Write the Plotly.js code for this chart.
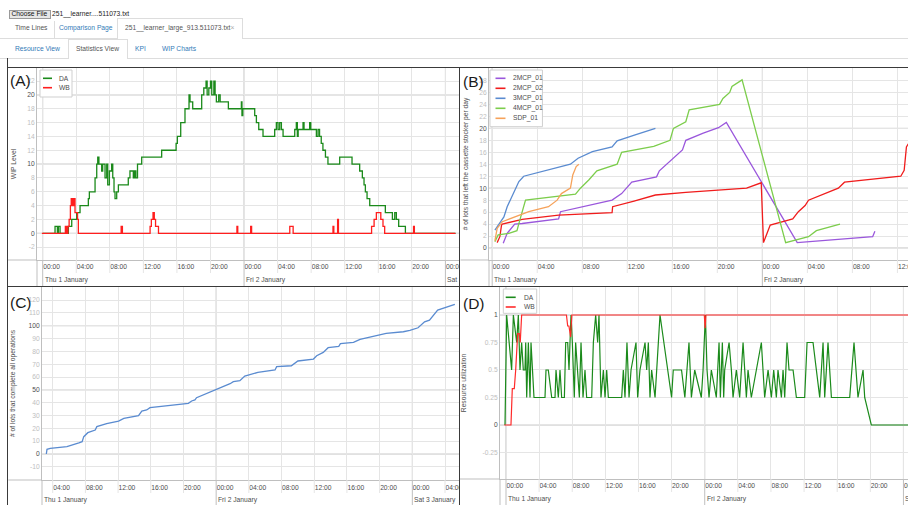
<!DOCTYPE html>
<html><head><meta charset="utf-8">
<script src="https://cdn.plot.ly/plotly-3.0.1.min.js"></script>
<style>
body{margin:0;background:#fff;font-family:"Liberation Sans",Arial,sans-serif;}
#page{position:relative;width:908px;height:505px;overflow:hidden;background:#fff;}
.abs{position:absolute;}
.t{position:absolute;font-size:6.7px;line-height:1;white-space:nowrap;}
.blue{color:#337ab7}
.gray{color:#555}
.fr{position:absolute;background:#3a3a3a;}
.panel{position:absolute;overflow:hidden;}
</style></head><body><div id="page">
<div class="abs" style="left:9px;top:10px;width:40px;height:7px;border:1px solid #9a9a9a;background:#e6e6e6;"></div>
<div class="t" style="left:11.5px;top:10.6px;color:#111">Choose File</div>
<div class="t" style="left:52px;top:10.6px;color:#222">251__learner....511073.txt</div>
<div class="abs" style="left:0;top:38px;width:117px;height:1px;background:#ddd"></div>
<div class="abs" style="left:242px;top:38px;width:666px;height:1px;background:#ddd"></div>
<div class="abs" style="left:54px;top:20.5px;width:1px;height:18px;background:#ddd"></div>
<div class="abs" style="left:117px;top:18px;width:124px;height:20px;border:1px solid #ddd;border-bottom:none;background:#fff"></div>
<div class="t gray" style="left:15px;top:25.3px">Time Lines</div>
<div class="t blue" style="left:59px;top:25.3px">Comparison Page</div>
<div class="t gray" style="left:125px;top:25.3px">251__learner_large_913.511073.txt<span style="color:#aaa">×</span></div>
<div class="abs" style="left:0;top:58px;width:68px;height:1px;background:#ddd"></div>
<div class="abs" style="left:127px;top:58px;width:781px;height:1px;background:#ddd"></div>
<div class="abs" style="left:68px;top:39px;width:58px;height:19px;border:1px solid #ddd;border-bottom:none;background:#fff"></div>
<div class="t blue" style="left:15px;top:45.6px">Resource View</div>
<div class="t gray" style="left:76px;top:45.6px">Statistics View</div>
<div class="t blue" style="left:135px;top:45.6px">KPI</div>
<div class="t blue" style="left:162px;top:45.6px">WIP Charts</div>

<div id="pA" class="panel" style="left:8px;top:68px;width:451px;height:218px"></div>
<div id="pB" class="panel" style="left:460px;top:68px;width:448px;height:218px"></div>
<div id="pC" class="panel" style="left:8px;top:287px;width:451px;height:218px"></div>
<div id="pD" class="panel" style="left:460px;top:287px;width:448px;height:218px"></div>

<div class="fr" style="left:7px;top:67px;width:901px;height:1px"></div>
<div class="fr" style="left:7px;top:58px;width:1px;height:447px"></div>
<div class="fr" style="left:459px;top:67px;width:1px;height:438px"></div>
<div class="fr" style="left:7px;top:286px;width:901px;height:1px"></div>
</div>
<script>
// ---------- DATA (time = hours since Thu 1 January 00:00) ----------
// Panel A: WIP level
const wipDA_t = [0,1.47,1.75,1.87,2.07,3.06,3.46,4.05,4.45,5.44,
  5.56,6.24,6.44,6.56,6.7,7.03,7.15,7.43,7.63,7.75,
  7.95,8.22,8.35,8.5,8.62,8.82,9.02,10.2,10.4,10.8,
  10.95,11.1,11.3,11.8,14.18,15.9,16.05,16.45,16.96,17.44,
  17.56,17.88,18.95,19.2,19.47,19.6,19.8,20.0,20.15,20.4,
  20.55,20.7,20.98,21.15,22.13,23.68,23.75,23.85,25.27,25.47,
  25.75,26.26,27.65,27.85,28.05,28.25,28.45,28.65,30.04,30.23,
  30.35,30.45,31.03,31.15,31.82,31.95,32.62,32.82,33.0,33.2,
  33.4,33.7,34.0,35.4,36.87,37.78,38.1,38.3,38.46,38.66,
  38.98,40.84,41.68,41.96,42.15,42.43,43.23,49.2];
const wipDA_v = [0,1,0,1,0,1,2,3,4,5,
  6,8,10,11,10,9,10,8,10,7,
  9,10,8,6,5,6,7,8,9,8,
  9,8,10,11,12,13,14,16,18,20,
  19,18,20,21,22,20,21,22,20,22,
  20,19,20,19,18,19,17,18,17,16,
  15,14,15,16,15,16,15,14,15,16,
  14,15,16,15,16,15,14,15,14,13,
  12,11,10,11,10,9,8,7,6,5,
  4,3,2,3,2,1,0,0];
const wipWB_t = [-0.1,2.7,2.85,3.0,3.15,3.3,3.4,3.55,3.7,3.85,
  4.15,4.25,9.35,9.5,12.8,12.95,13.15,13.3,13.45,13.8,
  23.15,23.25,24.79,24.9,29.45,29.85,34.6,34.7,35.15,35.25,
  39.2,39.5,39.77,40.3,40.56,40.76,44.2,44.3,49.2];
const wipWB_v = [0,1,0,1,2,4,5,4,5,3,
  2,0,1,0,1,2,3,2,1,0,
  1,0,1,0,1,0,1,0,2,0,
  1,2,3,2,1,0,1,0,0];

// Panel B: lots that left the cassette stocker per day
const mcp201_t = [0.98,1.33,2.0,2.66,5.9,6.07,10.65,11.5,12.4,14.6,14.85,15.7,16.3,16.9,17.2,18.75,20.1,20.8,27.1,33.8,34.0];
const mcp201_v = [0.8,2.45,4.0,4.1,4.85,6.07,8.0,9.1,11,11.9,12.9,14.4,15.5,16.4,18.0,19.2,20.1,21.0,0.9,1.9,2.8];
const mcp202_t = [0.44,0.68,0.83,0.9,2.66,5.9,10.65,10.7,12.6,14.5,17.2,22.6,23.9,24.1,24.3,24.7,26.7,27.2,27.8,28.1,30.75,31.3,36.3,36.6,36.8,37.0];
const mcp202_v = [0.9,1.9,3.84,4.0,4.8,5.5,5.9,6.9,7.85,8.86,9.3,10.0,10.9,0.9,1.9,3.84,4.85,6.07,7.1,8.0,10,11.0,12.0,13,16.9,17.5];
const mcp301_t = [0.24,1.04,1.33,1.78,2.37,2.8,6.95,7.63,8.9,10.65,11.1,12.7,14.5];
const mcp301_v = [3.0,5.2,6.9,8.6,11.1,12.0,14.0,15,16.1,16.9,17.9,18.9,20];
const mcp401_t = [0.24,0.53,1.48,2.2,2.46,2.96,7.4,7.84,8.6,9.3,11.1,11.5,14.35,15.8,16.1,17.2,17.5,20.2,20.5,21.1,21.3,22.2,26.07,28.1,28.8,30.9];
const mcp401_v = [1.06,2.2,2.45,2.9,4.7,8.0,9.0,10,11.4,12.9,14.0,16.0,17.0,18.0,20,21.1,23.1,24.0,25.0,26.0,27.0,28.1,0.9,1.9,2.9,4.0];
const sdp01_t = [0.24,0.44,0.9,3.25,5.0,5.77,6.15,6.95,7.16,7.46,7.7];
const sdp01_v = [1.2,3.3,4.4,6.07,6.9,8.0,9.1,10.0,12.2,13.6,14.0];

// Panel C: cumulative lots that complete all operations
const done_t = [3.22,3.3,3.7,5.74,7.2,7.6,7.8,8.3,9.2,9.4,10.6,12.06,12.7,14.5,14.9,15.5,15.9,19.2,20.6,21.0,21.4,21.6,22.9,23.7,24.5,24.9,25.7,26.1,26.9,27.5,
  29.1,31.2,31.4,33.2,34.0,35.9,36.3,37.1,37.7,39.0,39.2,40.8,41.6,42.8,44.2,44.8,46.9,47.7,48.7,49.5,50.1,50.5,51.1,53.2];
const done_v = [0,3.6,4.4,5.7,8.6,9.6,13.5,16.6,18.7,21.3,23.6,25.7,27.8,29.9,33.5,34.3,36.1,38.2,39.5,41.3,42.1,43.9,47.3,49.6,51.2,52.7,54.8,56.4,57.1,60.8,
  63.6,65.5,68.1,68.8,72.5,74,76.6,79.2,82.9,83.9,86.0,87.0,89.4,91.2,93.2,94.0,95.3,96.4,98.4,103,104.4,107.8,112.2,116.6];

// Panel D: resource utilization
const utilDA_t = [-0.12,0.08,0.68,0.89,1.29,1.49,1.69,1.89,2.09,2.29,
  2.38,2.5,2.7,2.9,3.02,3.18,3.38,4.71,4.83,5.11,
  5.52,5.92,6.04,6.32,6.52,6.72,7.05,7.21,7.45,7.61,
  7.85,8.01,8.25,8.41,8.66,8.86,9.06,9.3,9.54,9.74,
  10.35,10.55,10.83,11.07,11.23,11.47,11.76,11.96,12.16,12.36,
  13.97,14.17,14.37,14.61,14.86,15.1,15.7,15.9,16.18,16.79,
  16.99,17.19,17.39,17.59,18.0,18.2,18.6,20.0,20.2,21.2,
  21.6,22.1,22.39,22.79,23.59,23.8,24.08,24.28,24.52,24.8,
  25.4,25.73,25.89,26.13,26.29,26.41,26.94,27.22,27.42,27.82,
  28.22,28.63,29.03,29.23,29.63,30.84,31.04,31.24,31.65,32.05,
  32.33,32.65,32.85,33.26,33.46,33.66,33.94,34.18,34.67,35.07,
  36.07,36.19,36.36,37.08,37.89,38.29,38.49,38.69,38.89,39.3,
  41.51,42.03,42.51,43.12,43.32,44.12,48.55];
const utilDA_v = [0,1,0.5,1,0.75,1,0.5,0.75,0.5,0.5,
  0.75,0.25,0.75,0.25,0.75,0.5,0.25,0.25,0.5,0.5,
  0.25,0.25,0.5,0.25,0.5,0.25,0.25,0.75,0.75,0.5,
  1,0.75,0.25,0.75,0.5,0.25,0.75,0.25,0.5,0.25,
  0.25,0.75,1,0.75,1,0.25,0.5,0.25,0.5,0.25,
  0.25,0.5,0.25,0.75,0.25,0.5,0.75,0.25,0.5,0.75,
  0.5,0.75,0.25,0.5,0.25,0.5,1,0.25,0.5,0.5,
  0.25,0.75,0.25,0.5,0.25,0.5,1,0.5,0.25,0.5,
  0.25,0.75,0.25,0.75,0.25,0.5,0.75,0.5,0.25,0.5,
  0.25,0.75,0.25,0.5,0.25,0.75,0.5,0.25,0.5,0.25,
  0.5,0.25,0.5,0.25,0.5,0.25,0.75,0.5,0.5,0.25,
  0.25,0.5,0.75,0.75,0.25,0.75,0.25,0.5,0.75,0.25,
  0.25,0.75,0.25,0.5,0.25,0,0];
const utilWB_t = [-0.2,0.6,0.76,1.0,1.17,1.41,1.6,1.72,1.89,7.3,7.45,7.6,7.8,7.95,23.95,24.05,24.15,48.55];
const utilWB_v = [0,0,0.33,0.33,0.5,0.83,0.83,0.75,1,1,0.9,0.9,0.8,1,1,0.88,1,1];

const dayNames = ['Wed 31 December','Thu 1 January','Fri 2 January','Sat 3 January','Sun 4 January'];

// ---------- helpers ----------
const FONT = '"Liberation Sans", Arial, sans-serif';
const BASE = Date.UTC(2015,0,1);
const p2 = n => (n<10?'0':'')+n;
function d(h){const t=new Date(BASE+Math.round(h*3600000));
  return t.getUTCFullYear()+'-'+p2(t.getUTCMonth()+1)+'-'+p2(t.getUTCDate())+' '+p2(t.getUTCHours())+':'+p2(t.getUTCMinutes())+':'+p2(t.getUTCSeconds());}

function build(id,cfg){
  const pw=cfg.gx1-cfg.gx0, ph=cfg.gy1-cfg.gy0;
  const PX=x=>(x-cfg.gx0)/pw, PY=y=>(cfg.gy1-y)/ph;
  const m={l:cfg.gx0-cfg.L, r:cfg.L+cfg.W-cfg.gx1, t:cfg.gy0-cfg.T, b:cfg.T+cfg.H-cfg.gy1, pad:0};
  const [h0,h1]=cfg.xr,[y0,y1]=cfg.yr, xr=[d(h0),d(h1)];
  const hourT=[],hourL=[],extT=[],dayH=[];
  for(let h=Math.ceil(h0/4)*4;h<=h1+1e-9;h+=4){
    const hh=((h%24)+24)%24; hourT.push(d(h)); hourL.push(p2(hh)+':00');
    if(hh) extT.push(d(h)); else dayH.push(h);
  }
  const yV=[],yL=[],majV=[],upx=ph/(y1-y0);
  for(let k=Math.ceil(y0/cfg.ys-1e-9);k*cfg.ys<=y1+1e-9;k++){
    const v=+(k*cfg.ys).toFixed(4);
    if(Math.min(y1-v,v-y0)*upx<5) continue;
    const r=v/cfg.ym, maj=Math.abs(r-Math.round(r))<1e-6;
    yV.push(v); yL.push(maj?'<span style="color:#4d4d4d">'+v+'</span>':String(v));
    if(maj) majV.push(v);
  }
  const tf={family:FONT,size:6.7,color:'#4d4d4d'};
  const traces=cfg.series.map(s=>({type:'scatter',mode:'lines',name:s.name,x:s.t.map(d),y:s.v,
    line:{color:s.color,width:s.w||1.3,shape:s.shape||'linear'},hoverinfo:'skip'}));
  const G='#bfbfbf', g='#e5e5e5';
  const shapes=[
    {type:'line',xref:'paper',yref:'paper',x0:-m.l/pw,x1:0,y0:0,y1:0,line:{color:G,width:1}},
    {type:'line',xref:'paper',yref:'paper',x0:0,x1:0,y0:-m.b/ph,y1:0,line:{color:G,width:1}}
  ];
  // major horizontal grid lines
  majV.forEach(v=>shapes.push({type:'line',xref:'x',yref:'y',x0:xr[0],x1:xr[1],y0:v,y1:v,line:{color:G,width:1},layer:'below'}));
  // day-boundary grid lines and their extension through the time axis
  dayH.forEach(h=>{
    shapes.push({type:'line',xref:'x',yref:'y',x0:d(h),x1:d(h),y0:y0,y1:y1,line:{color:G,width:1},layer:'below'});
    shapes.push({type:'line',xref:'x',yref:'paper',x0:d(h),x1:d(h),y0:-m.b/ph,y1:0,line:{color:G,width:1}});
  });
  // minor time grid extension into the axis
  extT.forEach(x=>shapes.push({type:'line',xref:'x',yref:'paper',x0:x,x1:x,y0:-13/ph,y1:0,line:{color:g,width:1}}));
  const ann=[];
  for(let k=Math.floor(h0/24);k*24<=h1;k++){
    let hx=k*24;
    if(hx<h0){ if(((k+1)*24-h0)*pw/(h1-h0)<80) continue; hx=h0; }
    ann.push({x:d(hx),xref:'x',y:0,yref:'paper',yanchor:'middle',yshift:-cfg.majY,xanchor:'left',xshift:1,
      text:dayNames[k+1],showarrow:false,font:tf,borderpad:0});
  }
  ann.push({x:PX(cfg.lab[1]),y:PY(cfg.lab[2]),xref:'paper',yref:'paper',xanchor:'left',yanchor:'middle',
    text:cfg.lab[0],showarrow:false,font:{family:FONT,size:15.5,color:'#1a1a1a'},borderpad:0});
  if(cfg.leg){
    const L=cfg.leg;
    shapes.push({type:'rect',xref:'paper',yref:'paper',x0:PX(L.box[0]),x1:PX(L.box[1]),y0:PY(L.box[3]),y1:PY(L.box[2]),
      fillcolor:'#ffffff',line:{color:'#cfcfcf',width:1},layer:'above'});
    cfg.series.forEach((s,i)=>{
      const yy=PY(L.rows[i]);
      shapes.push({type:'line',xref:'paper',yref:'paper',x0:PX(L.sx[0]),x1:PX(L.sx[1]),y0:yy,y1:yy,
        line:{color:s.color,width:1.6},layer:'above'});
      ann.push({x:PX(L.tx),y:yy,xref:'paper',yref:'paper',xanchor:'left',yanchor:'middle',text:s.name,
        showarrow:false,font:tf,borderpad:0});
    });
  }
  const layout={
    width:cfg.W,height:cfg.H,margin:m,paper_bgcolor:'#fff',plot_bgcolor:'rgba(0,0,0,0)',showlegend:false,
    font:{family:FONT},
    xaxis:{type:'date',range:xr,tickmode:'array',tickvals:hourT,ticktext:hourL,ticks:'',
      showgrid:true,gridcolor:g,gridwidth:1,showline:true,linecolor:G,linewidth:1,zeroline:false,
      tickfont:tf,ticklabelposition:'outside right',ticklabeloverflow:'allow',ticklabelstandoff:cfg.minY,fixedrange:true},
    yaxis:{range:[y0,y1],tickmode:'array',tickvals:yV,ticktext:yL,ticks:'',
      tickfont:{family:FONT,size:6.7,color:'#bebebe'},showgrid:true,gridcolor:g,gridwidth:1,
      showline:true,linecolor:G,linewidth:1,zeroline:false,fixedrange:true,
      title:{text:cfg.title,font:tf,standoff:cfg.so}},
    shapes:shapes,annotations:ann
  };
  Plotly.newPlot(id,traces,layout,{staticPlot:true,displayModeBar:false});
}

build('pA',{L:8,T:68,W:451,H:218,gx0:37,gx1:459,gy0:68,gy1:260,
  xr:[-0.68,49.62],yr:[-3.86,23.89],ys:2,ym:10,minY:1.5,majY:20,so:9.5,
  title:'WIP Level',lab:['(A)',9,80],
  leg:{box:[40,72,70,97],rows:[78.3,87.7],sx:[43,52],tx:58},
  series:[{name:'DA',color:'#1b8a1b',t:wipDA_t,v:wipDA_v,shape:'hv'},
          {name:'WB',color:'#ff1e1e',t:wipWB_t,v:wipWB_v,shape:'hv'}]});

build('pB',{L:460,T:68,W:448,H:218,gx0:488.5,gx1:908,gy0:68,gy1:260,
  xr:[-0.284,36.94],yr:[-2.0,30.08],ys:2,ym:10,minY:1.5,majY:20,so:9,
  title:'# of lots that left the cassette stocker per day',lab:['(B)',461,81],
  leg:{box:[489.5,542,70,126.7],rows:[78.3,88.3,98.3,108.3,118.3],sx:[495,505],tx:512},
  series:[{name:'2MCP_01',color:'#9a57dc',t:mcp201_t,v:mcp201_v},
          {name:'2MCP_02',color:'#f01c1c',t:mcp202_t,v:mcp202_v},
          {name:'3MCP_01',color:'#5a8bd0',t:mcp301_t,v:mcp301_v},
          {name:'4MCP_01',color:'#7ccd4c',t:mcp401_t,v:mcp401_v},
          {name:'SDP_01',color:'#f6a25a',t:sdp01_t,v:sdp01_v}]});

build('pC',{L:8,T:287,W:451,H:218,gx0:41.7,gx1:459,gy0:287,gy1:480,
  xr:[2.69,53.71],yr:[-20.3,130.2],ys:10,ym:50,minY:1,majY:19.5,so:11.5,
  title:'# of lots that complete all operations',lab:['(C)',8.5,302.5],
  series:[{name:'Completed lots',color:'#5a8bd0',t:done_t,v:done_v}]});

build('pD',{L:460,T:287,W:448,H:218,gx0:500,gx1:908,gy0:287,gy1:479,
  xr:[-0.725,48.55],yr:[-0.491,1.2545],ys:0.25,ym:1,minY:1.5,majY:20,so:15,
  title:'Resource utilization',lab:['(D)',461.7,304],
  leg:{box:[503.3,536.7,289,313.3],rows:[297.3,307],sx:[505.7,515.7],tx:522.7},
  series:[{name:'DA',color:'#1b8a1b',t:utilDA_t,v:utilDA_v,w:1.2},
          {name:'WB',color:'#ff2a2a',t:utilWB_t,v:utilWB_v,w:1.2}]});
</script>
</body></html>
